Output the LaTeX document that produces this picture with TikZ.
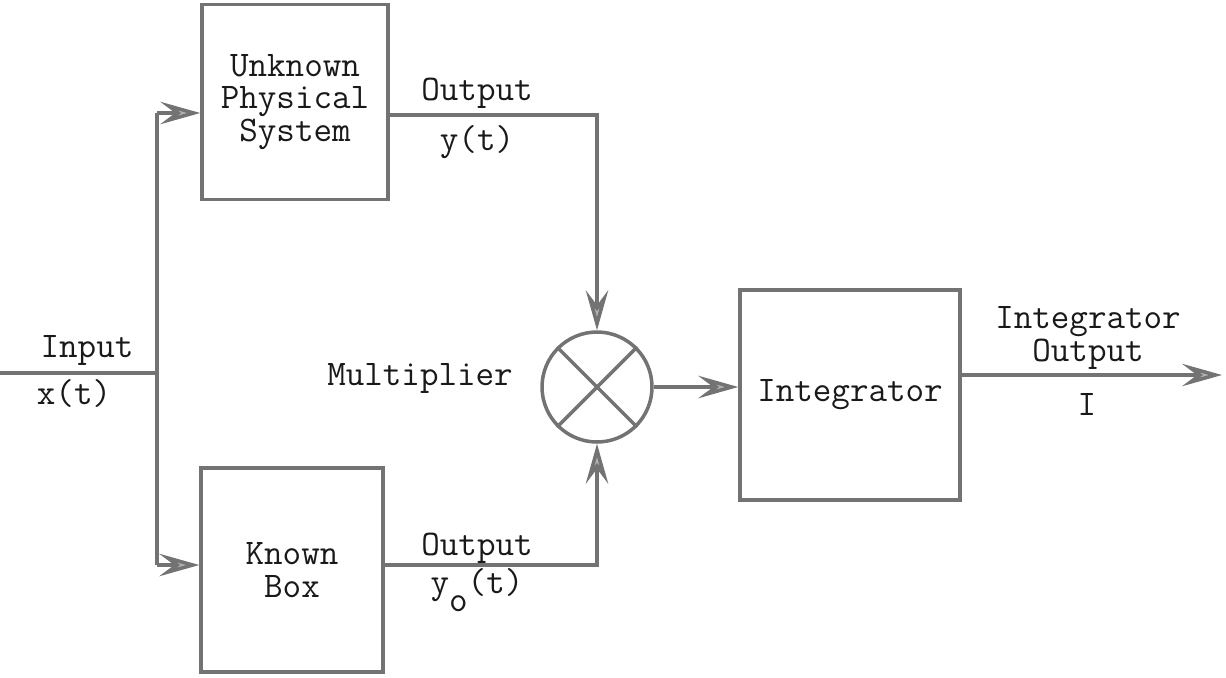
\documentclass[tikz,border=0pt]{standalone}
\usepackage{tikz}
\usetikzlibrary{arrows.meta,positioning,calc}

\newcommand{\tw}{\ttfamily\fontsize{20.5}{18.5}\selectfont}

\begin{document}
\begin{tikzpicture}[x=0.02cm,y=-0.02cm,
  every node/.style={text=black!90, font=\tw},
  blk/.style={draw=black!55, line width=2pt, rectangle, align=center},
  wire/.style={draw=black!55, line width=2pt},
  arr/.style={wire, -{Stealth[length=0.8cm,width=0.45cm,inset=0.3cm,fill=black!30]}}]
\useasboundingbox (0,0) rectangle (1226,677);
% boxes
\node[blk, minimum width=3.72cm, minimum height=3.9cm] (unk) at (295,102) {Unknown\\Physical\\System};
\node[blk, minimum width=3.64cm, minimum height=4.08cm] (known) at (292,570) {Known\\Box};
\node[blk, minimum width=4.4cm, minimum height=4.2cm] (integ) at (850,395) {Integrator};
\node[draw=black!55, line width=2pt, circle, minimum size=2.2cm] (mult) at (597,387) {};
\draw[wire] (mult.45) -- (mult.225) (mult.135) -- (mult.315);
% taps
\coordinate (in) at (0,373);
\coordinate (split) at (157,373);
\coordinate (utap) at (157,113);
\coordinate (ktap) at (157,565);
\coordinate (out) at (1222,375);
% wires
\draw[wire] (in) -- (split);
\draw[wire] (utap) -- (ktap);
\draw[arr] (utap) -- (utap -| unk.west);
\draw[arr] (ktap) -- (ktap -| known.west);
\draw[arr] (unk.east |- 0,115) -| (mult.north);
\draw[arr] (known.east |- ktap) -| (mult.south);
\draw[arr] (mult.east) -- (mult.east -| integ.west);
\draw[arr] (integ.east |- out) -- (out);
% labels
\node (lin) at (87,350) {Input};
\node (lx) at (74,393) {x(t)};
\node (lmul) at (420,378) {Multiplier};
\node (lyo) at (477,93) {Output};
\node (ly) at (477,142) {y(t)};
\node (lko) at (477,548) {Output};
\node (lk) at (477,590) {y\raisebox{-1.2ex}{o}(t)};
\node[align=center] (lint) at (1088,338) {Integrator\\Output};
\node (li) at (1087,404) {I};
\end{tikzpicture}
\end{document}
